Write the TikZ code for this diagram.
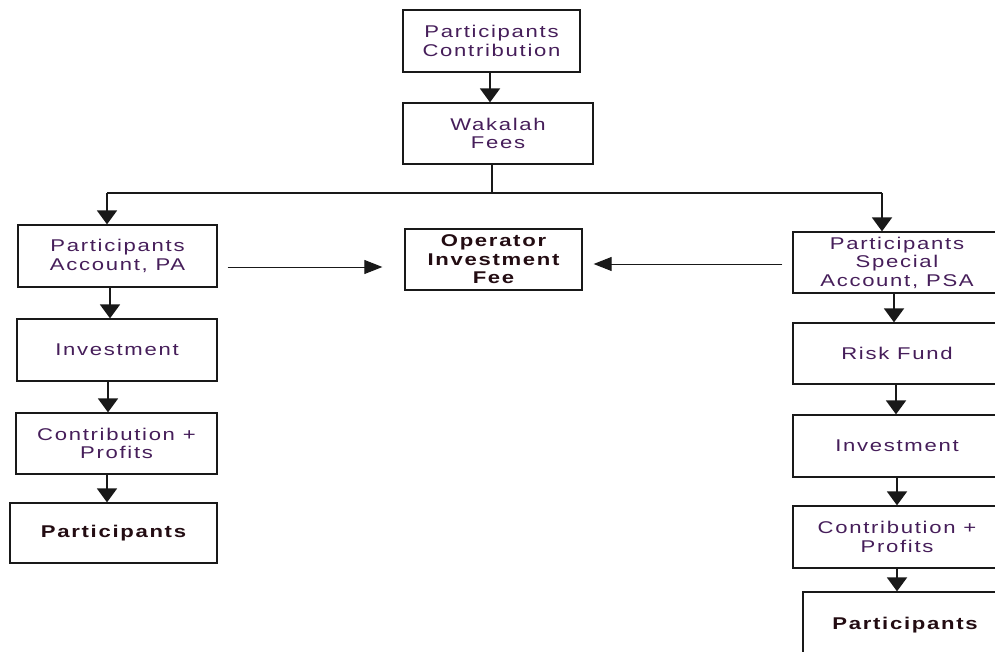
\documentclass[tikz,border=0pt]{standalone}
\usepackage{fontspec}
\setmainfont{Liberation Sans}
\newfontfamily\widefont[FakeStretch=1.3,LetterSpace=10]{Liberation Sans}
\usetikzlibrary{arrows.meta}
\definecolor{txt}{RGB}{70,30,90}
\definecolor{btxt}{RGB}{35,12,18}
\definecolor{ln}{RGB}{25,25,25}
\tikzset{
  box/.style={draw=ln, line width=1.3pt, align=center, inner sep=0pt,
    font=\widefont\fontsize{17}{18.5}\selectfont, text=txt},
  boldbox/.style={box, font=\widefont\bfseries\fontsize{17}{18.5}\selectfont, text=btxt},
  varr/.style={draw=ln, line width=2pt, -{Triangle[width=20pt,length=14pt]}},
  harr/.style={draw=ln, line width=1pt, -{Triangle[width=14pt,length=18pt]}},
  bus/.style={draw=ln, line width=1.2pt}
}
\begin{document}
\begin{tikzpicture}[x=1pt,y=-1pt]
\useasboundingbox (0,0) rectangle (995,652);
\fill[white] (0,0) rectangle (995,652);
\clip (0,0) rectangle (995,652);

\node[box, minimum width=177pt, minimum height=62pt] (pc) at (491.5,41) {Participants\\Contribution};
\node[box, minimum width=190pt, minimum height=61pt] (wf) at (498,133.5) {Wakalah\\Fees};

\node[box, minimum width=199pt, minimum height=62pt] (pa) at (117.5,256) {Participants\\Account, PA};
\node[box, minimum width=200pt, minimum height=62pt] (inv1) at (117,350) {Investment};
\node[box, minimum width=201pt, minimum height=61pt] (cp1) at (116.5,443.5) {Contribution +\\Profits};
\node[boldbox, minimum width=207pt, minimum height=60pt] (p1) at (113.5,533) {Participants};

\node[boldbox, minimum width=177pt, minimum height=61pt] (op) at (493.5,259.5) {Operator\\Investment\\Fee};

\node[box, minimum width=208pt, minimum height=61pt] (psa) at (897,262.5) {Participants\\Special\\Account, PSA};
\node[box, minimum width=208pt, minimum height=61pt] (rf) at (897,353.5) {Risk Fund};
\node[box, minimum width=208pt, minimum height=62pt] (inv2) at (897,446) {Investment};
\node[box, minimum width=208pt, minimum height=62pt] (cp2) at (897,537) {Contribution +\\Profits};
\node[boldbox, minimum width=204pt, minimum height=66pt] (p2) at (905,625) {Participants};

% connectors
\draw[varr] ([xshift=-1.5pt]pc.south) -- ([xshift=-8pt]wf.north);
\coordinate (j) at (492,193);
\coordinate (bl) at (107,193);
\coordinate (br) at (882,193);
\draw[bus] (wf.south -| j) -- (j);
\draw[bus] (bl) -- (br);
\draw[varr] (bl) -- (pa.north -| bl);
\draw[varr] (br) -- (psa.north -| br);

\draw[varr] ([xshift=-7.5pt]pa.south) -- ([xshift=-7pt]inv1.north);
\draw[varr] ([xshift=-9pt]inv1.south) -- ([xshift=-8.5pt]cp1.north);
\draw[varr] ([xshift=-9.5pt]cp1.south) -- ([xshift=-6.5pt]p1.north);

\draw[varr] ([xshift=-3pt]psa.south) -- ([xshift=-3pt]rf.north);
\draw[varr] ([xshift=-1pt]rf.south) -- ([xshift=-1pt]inv2.north);
\draw[varr] (inv2.south) -- (cp2.north);
\draw[varr] (cp2.south) -- ([xshift=-8pt]p2.north);

\coordinate (ya) at (0,267);
\coordinate (yb) at (0,264);
\draw[harr, shorten <=10pt, shorten >=22pt] (pa.east |- ya) -- (op.west |- ya);
\draw[harr, shorten <=10pt, shorten >=11pt] (psa.west |- yb) -- (op.east |- yb);
\end{tikzpicture}
\end{document}
